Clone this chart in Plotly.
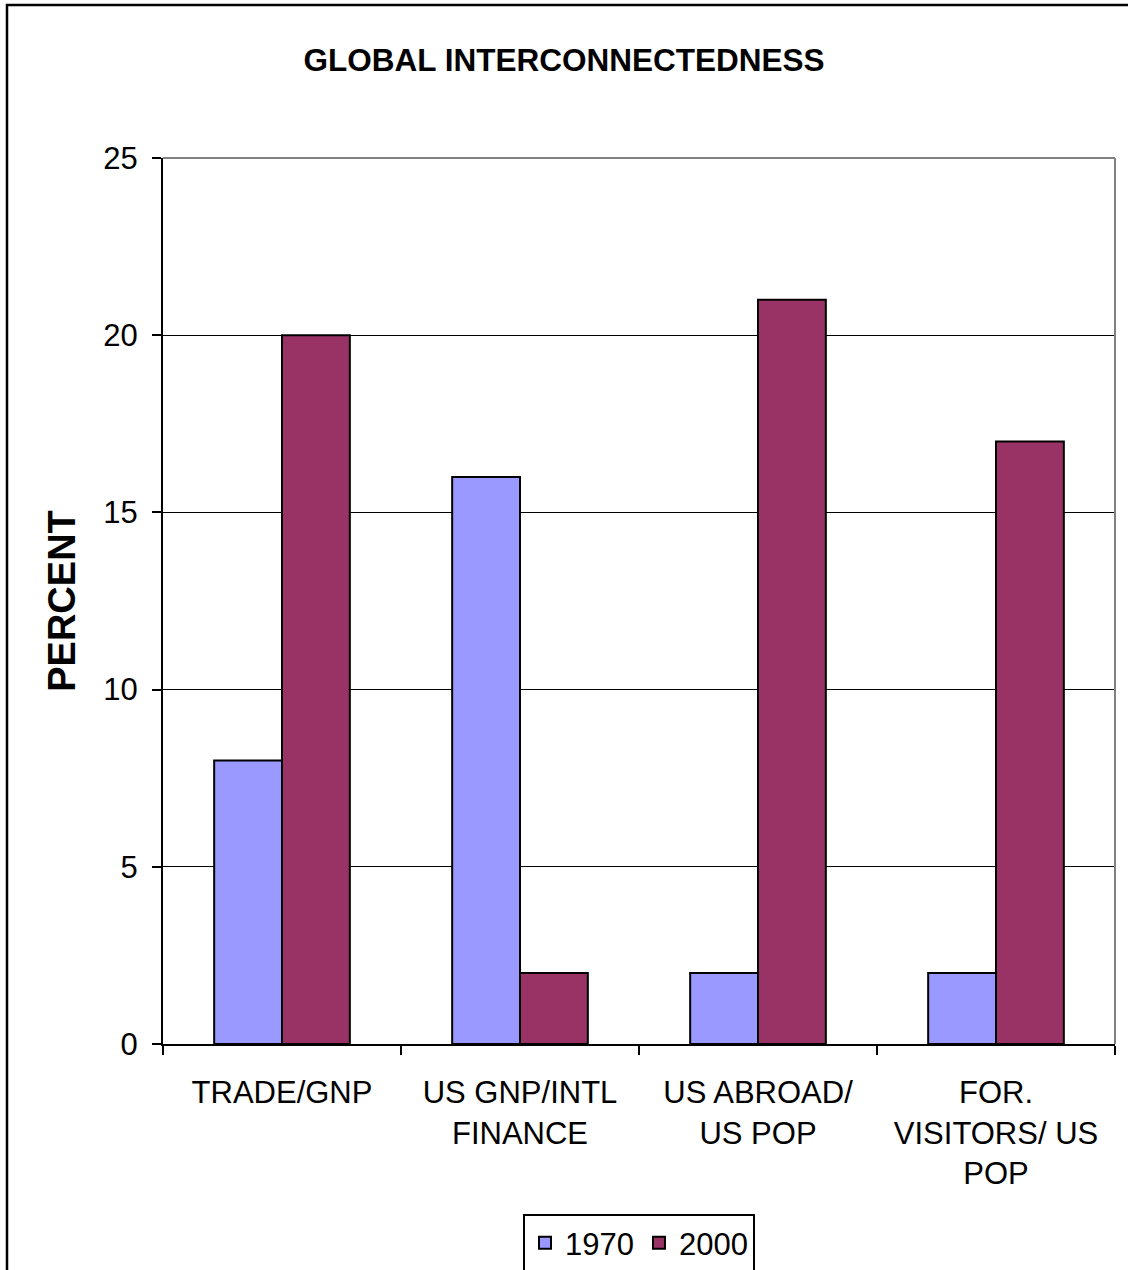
import plotly.graph_objects as go

# Indicators of global interconnectedness, percent
categories = ["TRADE/GNP", "US GNP/INTL<br>FINANCE", "US ABROAD/<br>US POP", "FOR.<br>VISITORS/ US<br>POP"]
values_1970 = [8, 16, 2, 2]
values_2000 = [20, 2, 21, 17]
series_names = ["1970", "2000"]
y_ticks = [0, 5, 10, 15, 20, 25]

FONT = "Liberation Sans, Arial, sans-serif"
W, H = 1128, 1270
L, R, T, B = 163, 13, 158, 226
plot_w = W - L - R
plot_h = H - T - B

def px_x(px):
    return (px - L) / plot_w

def px_y(py):
    return (H - B - py) / plot_h

fig = go.Figure()
fig.add_trace(go.Bar(
    x=categories, y=values_1970, name=series_names[0],
    marker=dict(color="#9999FF", line=dict(color="black", width=2)),
))
fig.add_trace(go.Bar(
    x=categories, y=values_2000, name=series_names[1],
    marker=dict(color="#993366", line=dict(color="black", width=2)),
))

fig.update_layout(
    width=W, height=H,
    margin=dict(l=L, r=R, t=T, b=B, autoexpand=False),
    paper_bgcolor="white", plot_bgcolor="white",
    font=dict(family=FONT, color="black", size=31),
    barmode="group", bargap=0.43, bargroupgap=0,
    title=dict(text="<b>GLOBAL INTERCONNECTEDNESS</b>",
               font=dict(family=FONT, size=31.5, color="black"),
               x=0.5, xref="container", xanchor="center",
               y=1 - 60 / H, yref="container", yanchor="middle"),
    showlegend=True,
    legend=dict(orientation="h", x=0.5, xanchor="center",
                y=px_y(1214), yanchor="top",
                font=dict(family=FONT, size=31, color="black"),
                bordercolor="black", borderwidth=2, bgcolor="white",
                itemwidth=30, tracegroupgap=0),
)

fig.update_xaxes(
    type="category", showgrid=False,
    showline=True, linecolor="black", linewidth=2,
    ticks="outside", tickson="boundaries", ticklen=9, tickwidth=2, tickcolor="black",
    tickfont=dict(family=FONT, size=31, color="black"),
    ticklabelstandoff=20,
)
fig.update_yaxes(
    range=[0, 25], tickvals=y_ticks, showgrid=True, gridcolor="black", gridwidth=1,
    showline=True, linecolor="black", linewidth=2, zeroline=False,
    ticks="outside", ticklen=9, tickwidth=1.5, tickcolor="black",
    tickfont=dict(family=FONT, size=31, color="black"),
    ticklabelstandoff=8,
    title=dict(text="<b>PERCENT</b>", font=dict(family=FONT, size=38, color="black"),
               standoff=16),
)

# plot-area border on top and right in grey
fig.add_shape(type="line", xref="paper", yref="paper", x0=0, x1=1, y0=1, y1=1,
              line=dict(color="#808080", width=2), layer="above")
fig.add_shape(type="line", xref="paper", yref="paper", x0=1, x1=1, y0=0, y1=1,
              line=dict(color="#808080", width=2), layer="above")

# outer chart frame
fig.add_shape(type="rect", xref="paper", yref="paper",
              x0=px_x(7), x1=px_x(W + 20), y0=px_y(H + 20), y1=px_y(5),
              line=dict(color="black", width=2.5), fillcolor="rgba(0,0,0,0)", layer="above")

fig.write_html("out.html")
